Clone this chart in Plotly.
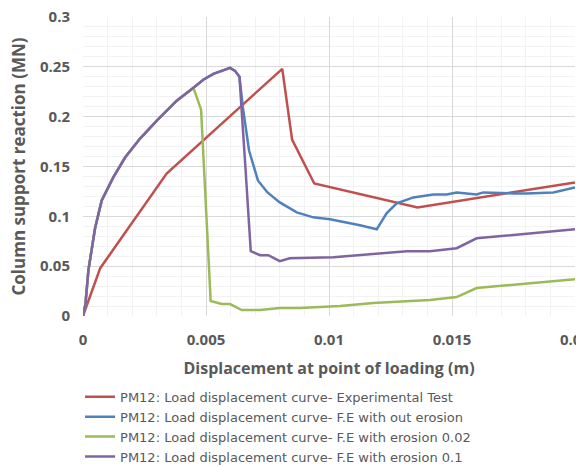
import plotly.graph_objects as go

# Experimental test
exp_x = [0, 0.0007, 0.0034, 0.0081, 0.0085, 0.0094, 0.0136, 0.02]
exp_y = [0, 0.048, 0.143, 0.248, 0.177, 0.133, 0.109, 0.134]

# shared initial rise of the FE curves
rise_x = [0, 0.0001, 0.00022, 0.00049, 0.00076, 0.00096, 0.00123, 0.00171, 0.00232, 0.003, 0.00381, 0.00449]
rise_y = [0, 0.012, 0.046, 0.088, 0.116, 0.126, 0.139, 0.159, 0.178, 0.196, 0.216, 0.229]

# FE without erosion
noer_x = rise_x + [0.00489, 0.0053, 0.0057, 0.00598, 0.00618, 0.00636, 0.0065, 0.00675, 0.00711, 0.0075, 0.008, 0.00869,
                   0.00936, 0.01004, 0.01126, 0.01194, 0.01234, 0.01275, 0.01343, 0.01424, 0.01478, 0.01519, 0.016,
                   0.01627, 0.0175, 0.01803, 0.01912, 0.02]
noer_y = rise_y + [0.237, 0.243, 0.247, 0.249, 0.246, 0.240, 0.209, 0.166, 0.136, 0.124, 0.114, 0.104,
                   0.099, 0.097, 0.091, 0.087, 0.103, 0.113, 0.119, 0.122, 0.122, 0.124, 0.122,
                   0.124, 0.123, 0.123, 0.124, 0.129]

# FE erosion 0.02
e02_x = rise_x + [0.0048, 0.00519, 0.00564, 0.00598, 0.00645, 0.0072, 0.008, 0.00882, 0.01045, 0.0118, 0.01316,
                  0.0141, 0.01519, 0.016, 0.02]
e02_y = rise_y + [0.207, 0.015, 0.012, 0.012, 0.006, 0.006, 0.008, 0.008, 0.010, 0.013, 0.015,
                  0.016, 0.019, 0.028, 0.037]

# FE erosion 0.1
e01_x = rise_x + [0.00489, 0.0053, 0.0057, 0.00598, 0.00618, 0.00636, 0.0066, 0.00682, 0.0072, 0.00753, 0.008,
                  0.0084, 0.01018, 0.01207, 0.01316, 0.0141, 0.01519, 0.016, 0.02]
e01_y = rise_y + [0.237, 0.243, 0.247, 0.249, 0.246, 0.240, 0.150, 0.065, 0.061, 0.061, 0.055,
                  0.058, 0.059, 0.063, 0.065, 0.065, 0.068, 0.078, 0.087]

x_ticks = [0, 0.005, 0.01, 0.015, 0.02]
x_labels = ["0", "0.005", "0.01", "0.015", "0.02"]
y_ticks = [0, 0.05, 0.1, 0.15, 0.2, 0.25, 0.3]
y_labels = ["0", "0.05", "0.1", "0.15", "0.2", "0.25", "0.3"]

names = [
    "PM12: Load displacement curve- Experimental Test",
    "PM12: Load displacement curve- F.E with out erosion",
    "PM12: Load displacement curve- F.E with erosion 0.02",
    "PM12: Load displacement curve- F.E with erosion 0.1",
]
colors = ["#C0504D", "#4F81BD", "#9BBB59", "#8064A2"]

fig = go.Figure()
for xs, ys, nm, c in zip([exp_x, noer_x, e02_x, e01_x], [exp_y, noer_y, e02_y, e01_y], names, colors):
    fig.add_trace(go.Scatter(x=xs, y=ys, mode="lines", name=nm,
                             line=dict(color=c, width=2.5)))

font = "Open Sans, DejaVu Sans, sans-serif"
grey = "#595959"
fig.update_layout(
    width=576, height=467,
    margin=dict(l=83, r=1, t=17, b=151, autoexpand=False),
    paper_bgcolor="white", plot_bgcolor="white",
    font=dict(family=font, color=grey),
    showlegend=True,
    legend=dict(x=-0.006, y=-0.22, xanchor="left", yanchor="top",
                font=dict(size=13, color=grey, family="DejaVu Sans, sans-serif"), tracegroupgap=0,
                bgcolor="rgba(0,0,0,0)"),
)
fig.update_xaxes(
    range=[0, 0.0200001], tickmode="array", tickvals=x_ticks, ticktext=x_labels,
    showgrid=True, gridcolor="#D9D9D9", gridwidth=1,
    minor=dict(dtick=0.001, tick0=0, showgrid=True, gridcolor="#F2F2F2"),
    zeroline=False, showline=False, ticks="",
    tickfont=dict(size=15, color=grey, weight="bold"),
    ticklabelstandoff=13, ticklabeloverflow="allow",
    title=dict(text="Displacement at point of loading (m)", font=dict(size=16, color=grey, weight="bold"), standoff=14),
    automargin=False,
)
fig.update_yaxes(
    range=[0, 0.3], tickmode="array", tickvals=y_ticks, ticktext=y_labels,
    showgrid=True, gridcolor="#D9D9D9", gridwidth=1,
    minor=dict(dtick=0.01, tick0=0, showgrid=True, gridcolor="#F2F2F2"),
    zeroline=False, showline=False, ticks="",
    tickfont=dict(size=15, color=grey, weight="bold"),
    ticklabelstandoff=12,
    title=dict(text="Column support reaction (MN)", font=dict(size=17, color=grey, weight="bold"), standoff=10),
    automargin=False,
)
fig.write_html("out.html")
